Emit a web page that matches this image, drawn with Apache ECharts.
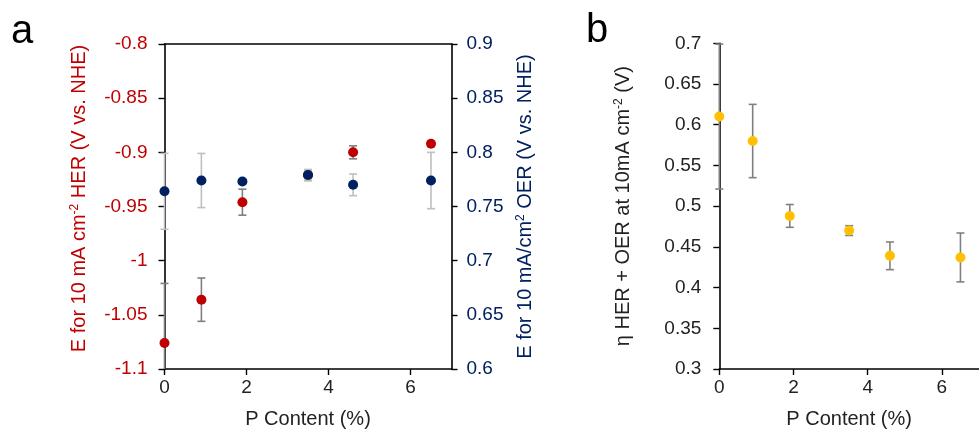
<!DOCTYPE html>
<html>
<head>
<meta charset="utf-8">
<script src="https://cdn.jsdelivr.net/npm/echarts@6/dist/echarts.min.js"></script>
<style>html,body{margin:0;padding:0;background:#fff;}#c{width:979px;height:434px;}</style>
</head>
<body>
<div id="c"></div>
<script>
// ---- data ----
const pContent = [0, 0.9, 1.9, 3.5, 4.6, 6.5];
const herE     = [-1.076, -1.036, -0.946, -0.921, -0.900, -0.892];
const herErr   = [0.055, 0.020, 0.012, 0.005, 0.006, 0.002];
const oerE     = [0.764, 0.774, 0.773, 0.779, 0.770, 0.774];
const oerErr   = [0.035, 0.025, 0.002, 0.005, 0.010, 0.026];
const etaSum   = [0.610, 0.580, 0.488, 0.470, 0.439, 0.437];
const etaErr   = [0.089, 0.045, 0.014, 0.006, 0.017, 0.030];
const xTicks   = [0, 2, 4, 6];

const FONT = 'Liberation Sans, Arial, sans-serif';
const RED = '#C00000', NAVY = '#002060', GOLD = '#FFC000';

function pts(xs, ys) { return xs.map((x, i) => [x, ys[i]]); }
function errs(xs, ys, es) { return xs.map((x, i) => [x, ys[i] - es[i], ys[i] + es[i]]); }

function errRender(color) {
  return function (params, api) {
    const x = api.value(0), lo = api.value(1), hi = api.value(2);
    const cs = params.coordSys;
    const pHi = api.coord([x, hi]), pLo = api.coord([x, lo]);
    const top = cs.y, bot = cs.y + cs.height;
    const y1 = Math.max(pHi[1], top), y2 = Math.min(pLo[1], bot);
    const half = 4;
    const st = { stroke: color, lineWidth: 1.6 };
    const ch = [{ type: 'line', shape: { x1: pHi[0], y1: y1, x2: pHi[0], y2: y2 }, style: st }];
    if (pHi[1] >= top - 0.5) ch.push({ type: 'line', shape: { x1: pHi[0] - half, y1: pHi[1], x2: pHi[0] + half, y2: pHi[1] }, style: st });
    if (pLo[1] <= bot + 0.5) ch.push({ type: 'line', shape: { x1: pLo[0] - half, y1: pLo[1], x2: pLo[0] + half, y2: pLo[1] }, style: st });
    return { type: 'group', children: ch };
  };
}

const axisLineBlack = { show: true, onZero: false, lineStyle: { color: '#000', width: 1.6 } };
const tickBlack = { show: true, inside: false, length: 6, lineStyle: { color: '#000', width: 1.4 } };

function xAxisDef(gridIndex) {
  return {
    type: 'value', gridIndex: gridIndex, min: 0, max: 7, interval: 1,
    position: 'bottom',
    axisLine: axisLineBlack,
    axisTick: Object.assign({ customValues: xTicks }, tickBlack),
    axisLabel: { customValues: xTicks, color: '#222', fontSize: 19, fontFamily: FONT, margin: 9 },
    splitLine: { show: false },
    name: 'P Content (%)', nameLocation: 'middle', nameGap: 40,
    nameTextStyle: { color: '#222', fontSize: 20, fontFamily: FONT }
  };
}

function richName(color) {
  return { color: color, fontFamily: FONT,
    rich: { a: { fontSize: 20, color: color, fontFamily: FONT, lineHeight: 22 },
            s: { fontSize: 12, color: color, fontFamily: FONT, verticalAlign: 'top', lineHeight: 13 } } };
}

const option = {
  animation: false,
  backgroundColor: '#fff',
  grid: [
    { left: 164.5, top: 44, width: 287, height: 326 },
    { left: 719.3, top: 43.3, width: 272.3, height: 327.4 }
  ],
  xAxis: [
    xAxisDef(0),
    { type: 'value', gridIndex: 0, min: 0, max: 7, position: 'top',
      axisLine: axisLineBlack, axisTick: { show: false }, axisLabel: { show: false }, splitLine: { show: false } },
    xAxisDef(1)
  ],
  yAxis: [
    { type: 'value', gridIndex: 0, min: -1.1, max: -0.8, interval: 0.05, position: 'left',
      axisLine: axisLineBlack, axisTick: tickBlack, splitLine: { show: false },
      axisLabel: { color: RED, fontSize: 19, fontFamily: FONT, margin: 17 },
      name: '{a|E for 10 mA cm}{s|-2}{a| HER (V vs. NHE)}', nameLocation: 'middle', nameGap: 74,
      nameTextStyle: Object.assign(richName(RED), { padding: [0, 0, 0, 16] }) },
    { type: 'value', gridIndex: 0, min: 0.6, max: 0.9, interval: 0.05, position: 'right',
      axisLine: axisLineBlack, axisTick: tickBlack, splitLine: { show: false },
      axisLabel: { color: NAVY, fontSize: 19, fontFamily: FONT, margin: 15 },
      name: '{a|E for 10 mA/cm}{s|2}{a| OER (V vs. NHE)}', nameLocation: 'middle', nameGap: 63,
      nameTextStyle: richName(NAVY) },
    { type: 'value', gridIndex: 1, min: 0.3, max: 0.7, interval: 0.05, position: 'left',
      axisLine: axisLineBlack, axisTick: tickBlack, splitLine: { show: false },
      axisLabel: { color: '#222', fontSize: 19, fontFamily: FONT, margin: 18 },
      name: '{a|η HER + OER at 10mA cm}{s|-2}{a| (V)}', nameLocation: 'middle', nameGap: 85,
      nameTextStyle: richName('#222') }
  ],
  graphic: [
    { type: 'text', left: 11, top: 12, style: { text: 'a', fontSize: 40, fontFamily: FONT, fill: '#000' } },
    { type: 'text', left: 586, top: 11, style: { text: 'b', fontSize: 40, fontFamily: FONT, fill: '#000' } }
  ],
  series: [
    { type: 'custom', xAxisIndex: 0, yAxisIndex: 0, renderItem: errRender('#7f7f7f'), data: errs(pContent, herE, herErr), z: 3 },
    { type: 'scatter', xAxisIndex: 0, yAxisIndex: 0, data: pts(pContent, herE), symbolSize: 10, itemStyle: { color: RED, opacity: 1 }, z: 4 },
    { type: 'custom', xAxisIndex: 0, yAxisIndex: 1, renderItem: errRender('#bfbfbf'), data: errs(pContent, oerE, oerErr), z: 5 },
    { type: 'scatter', xAxisIndex: 0, yAxisIndex: 1, data: pts(pContent, oerE), symbolSize: 10, itemStyle: { color: NAVY, opacity: 1 }, z: 6 },
    { type: 'custom', xAxisIndex: 2, yAxisIndex: 2, renderItem: errRender('#808080'), data: errs(pContent, etaSum, etaErr), z: 3 },
    { type: 'scatter', xAxisIndex: 2, yAxisIndex: 2, data: pts(pContent, etaSum), symbolSize: 10, itemStyle: { color: GOLD, opacity: 1 }, z: 4 }
  ]
};

const chart = echarts.init(document.getElementById('c'), null, { renderer: 'canvas' });
chart.setOption(option);
</script>
</body>
</html>
